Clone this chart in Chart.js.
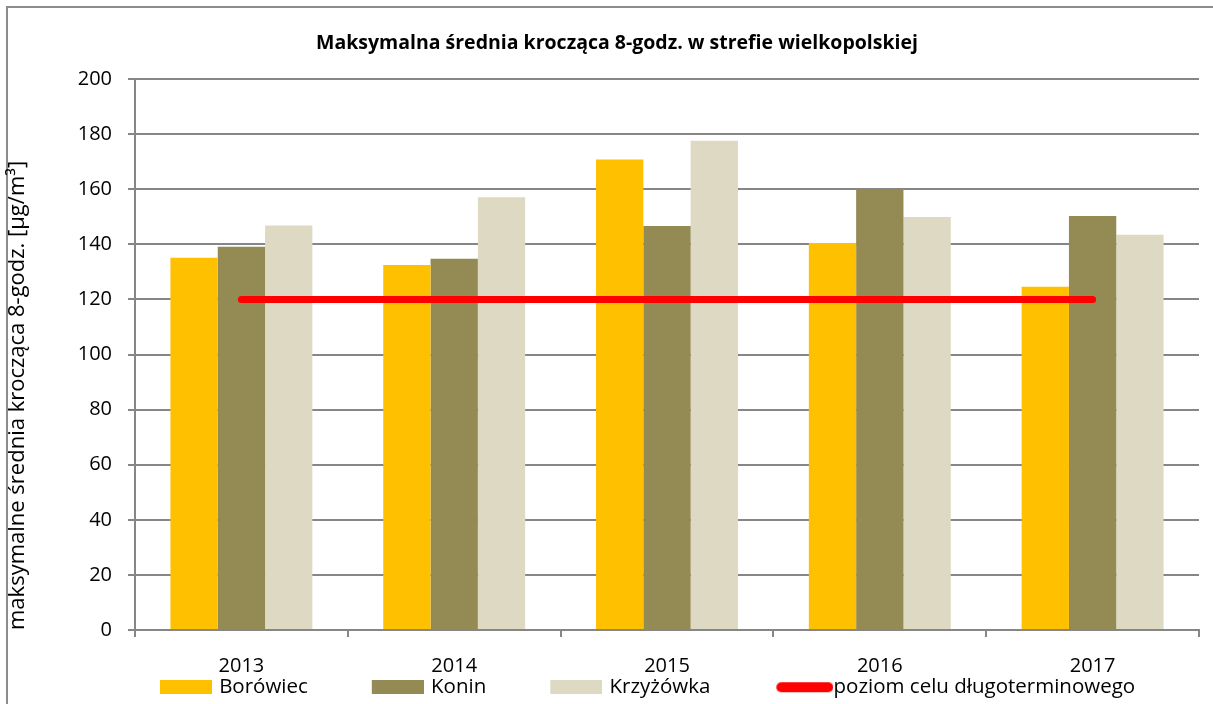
<!DOCTYPE html>
<html>
<head>
<meta charset="utf-8">
<script src="https://cdn.jsdelivr.net/npm/chart.js@4"></script>
<style>
  html, body { margin: 0; background: #fff; overflow: hidden; }
  #frame { position: absolute; left: 6px; top: 6px; width: 1240px; height: 740px; border: 2px solid #8c8c8c; }
  #wrap { position: absolute; left: 0; top: 0; width: 1213px; height: 704px; }
</style>
</head>
<body>
<div id="frame"></div>
<div id="wrap"><canvas id="chart" width="1213" height="704"></canvas></div>
<script>
const years = ['2013', '2014', '2015', '2016', '2017'];
const borowiec = [135.1, 132.5, 170.8, 140.5, 124.6];
const konin = [139.1, 134.8, 146.6, 160.1, 150.3];
const krzyzowka = [146.8, 157.1, 177.6, 149.9, 143.5];
const celDlugoterminowy = [120, 120, 120, 120, 120];

const yMin = 0, yMax = 200, yStep = 20;

const GRID = '#868686';
Chart.defaults.font.family = "'Open Sans', 'Noto Sans', sans-serif";
Chart.defaults.color = '#000';

// legend swatches drawn on small canvases; the empty left part widens the gap between items
const SW = 110;
function swatch(color, pill) {
    const c = document.createElement('canvas');
    c.width = pill ? SW + 20 : SW + 6;
    c.height = 14;
    const g = c.getContext('2d');
    g.fillStyle = color;
    if (pill) {
        g.beginPath();
        g.roundRect(c.width - 57, 2, 57, 10, 5);
        g.fill();
    } else {
        g.fillRect(c.width - 52, 0, 52, 14);
    }
    return c;
}

const datasets = [
    { label: 'Borówiec', data: borowiec, backgroundColor: '#FFC000' },
    { label: 'Konin', data: konin, backgroundColor: '#948A54' },
    { label: 'Krzyżówka', data: krzyzowka, backgroundColor: '#DDD9C3' },
    {
        type: 'line', label: 'poziom celu długoterminowego', data: celDlugoterminowy,
        borderColor: '#FF0000', backgroundColor: '#FF0000', borderWidth: 7,
        borderCapStyle: 'round', pointRadius: 0, order: -1
    }
];
const swatches = [swatch('#FFC000'), swatch('#948A54'), swatch('#DDD9C3'), swatch('#FF0000', true)];

new Chart(document.getElementById('chart'), {
    type: 'bar',
    data: { labels: years, datasets: datasets },
    options: {
        responsive: false,
        animation: false,
        categoryPercentage: 0.667,
        barPercentage: 1.0,
        layout: { padding: { left: 35, right: 14, top: 0, bottom: 0 } },
        plugins: {
            tooltip: { enabled: false },
            title: {
                display: true,
                text: 'Maksymalna średnia krocząca 8-godz. w strefie wielkopolskiej',
                font: { size: 19.5, weight: 'bold' },
                color: '#000',
                padding: { top: 31.3, bottom: 24.3 }
            },
            legend: {
                position: 'bottom',
                maxHeight: 30,
                labels: {
                    usePointStyle: true,
                    pointStyleWidth: SW,
                    padding: 3,
                    font: { size: 20.5 },
                    color: '#000',
                    generateLabels: chart => chart.data.datasets.map((ds, i) => ({
                        text: ds.label,
                        datasetIndex: i,
                        pointStyle: swatches[i],
                        fillStyle: ds.backgroundColor,
                        strokeStyle: ds.backgroundColor,
                        lineWidth: 0,
                        hidden: !chart.isDatasetVisible(i)
                    }))
                }
            }
        },
        scales: {
            x: {
                grid: { drawOnChartArea: false, color: GRID, lineWidth: 2, tickLength: 7, offset: true },
                border: { color: GRID, width: 2 },
                ticks: { padding: 17, font: { size: 20 }, color: '#000' },
                afterFit: s => { s.height = 44; }
            },
            y: {
                min: yMin,
                max: yMax,
                ticks: { stepSize: yStep, padding: 16, font: { size: 20 }, color: '#000' },
                grid: { color: GRID, lineWidth: 2, tickLength: 7 },
                border: { color: GRID, width: 2 },
                title: {
                    display: true,
                    text: 'maksymalne średnia krocząca 8-godz. [µg/m³]',
                    font: { size: 22 },
                    color: '#000',
                    align: 'start',
                    padding: { top: -30.2, bottom: 0 }
                },
                afterFit: s => { s.width = 100; }
            }
        }
    }
});
</script>
</body>
</html>
